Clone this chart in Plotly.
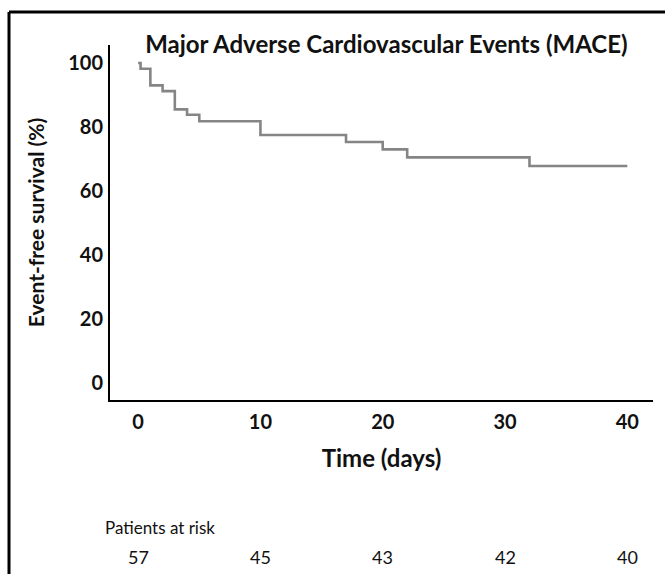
import plotly.graph_objects as go

# Kaplan-Meier steps
days = [0, 0.2, 1, 2, 3, 4, 5, 10, 17, 20, 22, 32, 40]
survival = [100, 98.2, 93.0, 91.2, 85.5, 83.8, 81.8, 77.5, 75.3, 73.0, 70.5, 67.8, 67.8]

risk_days = [0, 10, 20, 30, 40]
at_risk = [57, 45, 43, 42, 40]

x_ticks = [0, 10, 20, 30, 40]
y_ticks = [0, 20, 40, 60, 80, 100]

FONT = "Lato"

fig = go.Figure()

fig.add_trace(go.Scatter(
    x=days, y=survival,
    mode='lines',
    line=dict(color='#858585', width=2.6, shape='hv'),
    showlegend=False
))

# Patients-at-risk row under the x axis
for d, n in zip(risk_days, at_risk):
    fig.add_annotation(x=d, y=-0.443, xref='x', yref='paper', text=str(n),
                       yanchor='middle', xanchor='center',
                       showarrow=False, font=dict(family=FONT, size=18, color='#111'))

fig.add_annotation(x=-0.012, y=-0.36, xref='paper', yref='paper', text="Patients at risk",
                   xanchor='left', yanchor='middle',
                   showarrow=False, font=dict(family=FONT, size=17, color='#111'))

# Outer frame (left and top edges only are visible)
fig.add_shape(type='line', xref='paper', yref='paper', x0=-0.186, x1=-0.186, y0=1.093, y1=-0.5,
              line=dict(color='black', width=3))
fig.add_shape(type='line', xref='paper', yref='paper', x0=-0.186, x1=1.03, y0=1.093, y1=1.093,
              line=dict(color='black', width=3))

fig.update_layout(
    width=665, height=574,
    margin=dict(l=110, r=12, t=45, b=174),
    paper_bgcolor='white', plot_bgcolor='white',
    title=dict(text="<b>Major Adverse Cardiovascular Events (MACE)</b>",
               xref='paper', x=0.509, xanchor='center',
               yref='container', y=1 - 45 / 574, yanchor='middle',
               font=dict(family=FONT, size=24, color='#111')),
    xaxis=dict(range=[-2.3, 42.1], tickvals=x_ticks, showgrid=False, zeroline=False,
               showline=True, linecolor='black', linewidth=2,
               ticks='outside', ticklen=3, tickcolor='rgba(0,0,0,0)',
               tickfont=dict(family=FONT, size=20, color='#111', weight='bold'),
               title=dict(text="<b>Time (days)</b>", standoff=18,
                          font=dict(family=FONT, size=24, color='#111'))),
    yaxis=dict(range=[-5.3, 105.6], tickvals=y_ticks, showgrid=False, zeroline=False,
               showline=True, linecolor='black', linewidth=2,
               ticks='outside', ticklen=1, tickcolor='rgba(0,0,0,0)',
               tickfont=dict(family=FONT, size=20, color='#111', weight='bold'),
               title=dict(text="<b>Event-free survival (%)</b>", standoff=18,
                          font=dict(family=FONT, size=21, color='#111'))),
)

fig.write_html("out.html", config={'displayModeBar': False},
               post_script="document.body.style.margin='0';")
